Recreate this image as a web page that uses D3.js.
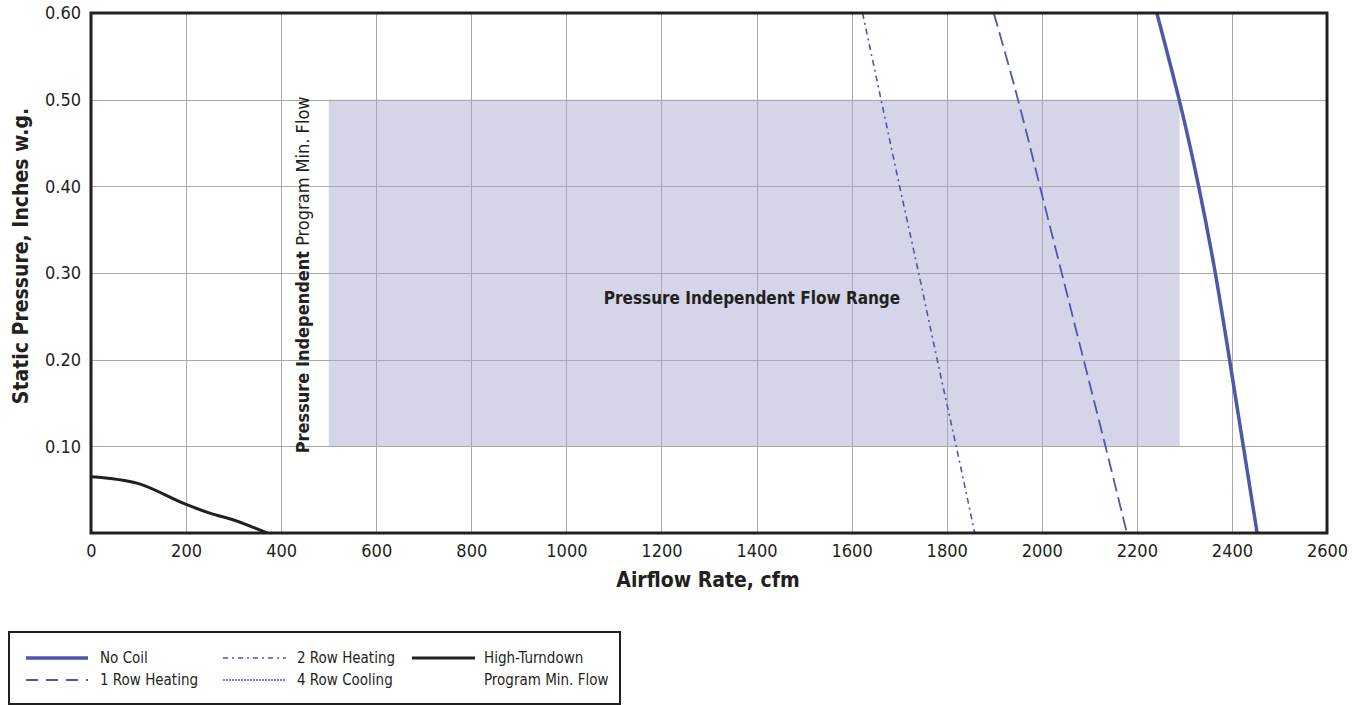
<!DOCTYPE html>
<html><head><meta charset="utf-8">
<script src="https://cdn.jsdelivr.net/npm/d3@7"></script>
<style>
body{margin:0;background:#fff;}
svg text{font-family:"Liberation Sans Narrow","DejaVu Sans Condensed","Arial Narrow",sans-serif;fill:#231f20;}
</style></head><body>
<svg id="chart" width="1365" height="705"></svg>
<script>
const xTicks = [0,200,400,600,800,1000,1200,1400,1600,1800,2000,2200,2400,2600];
const yTicks = [0.10,0.20,0.30,0.40,0.50,0.60];
const yTickLabels = ["0.10","0.20","0.30","0.40","0.50","0.60"];
const flowRange = {x0:500, x1:2290, y0:0.10, y1:0.50};

const noCoilP = [0.60,0.50,0.40,0.30,0.20,0.10,0.00];
const noCoilQ = [2242,2289,2330,2365,2395,2424,2453];
const row1P = [0.60,0.50,0.40,0.30,0.20,0.10,0.00];
const row1Q = [1899,1950,1996,2042,2088,2134,2179];
const row2P = [0.60,0.50,0.40,0.30,0.20,0.10,0.00];
const row2Q = [1623,1662,1701,1741,1780,1820,1859];
const htQ = [0,100,200,250,300,370];
const htP = [0.065,0.057,0.033,0.023,0.015,0.0];

const legendLabels = [["No Coil"],["1 Row Heating"],["2 Row Heating"],["4 Row Cooling"],["High-Turndown","Program Min. Flow"]];

const blue = "#4e58a8";
const svg = d3.select("#chart");
const m = {l:91, r:1327, t:13, b:533};
const x = d3.scaleLinear().domain([0,2600]).range([m.l,m.r]);
const y = d3.scaleLinear().domain([0,0.6]).range([m.b,m.t]);

// shaded range
svg.append("rect").attr("x",x(flowRange.x0)).attr("y",y(flowRange.y1))
  .attr("width",x(flowRange.x1)-x(flowRange.x0)).attr("height",y(flowRange.y0)-y(flowRange.y1))
  .attr("fill","#d4d5e8");

// grid
svg.append("g").selectAll("line").data(xTicks.slice(1,-1)).join("line")
  .attr("x1",d=>Math.round(x(d))+0.5).attr("x2",d=>Math.round(x(d))+0.5).attr("y1",m.t).attr("y2",m.b)
  .attr("stroke","#a9a9ad").attr("stroke-width",1);
svg.append("g").selectAll("line").data(yTicks.slice(0,-1)).join("line")
  .attr("y1",d=>Math.round(y(d))+0.5).attr("y2",d=>Math.round(y(d))+0.5).attr("x1",m.l).attr("x2",m.r)
  .attr("stroke","#a9a9ad").attr("stroke-width",1);

// axes (labels)
const xAxis = d3.axisBottom(x).tickValues(xTicks).tickSize(0).tickPadding(11).tickFormat(d3.format("d"));
const gx = svg.append("g").attr("transform",`translate(0,${m.b})`).call(xAxis);
gx.select(".domain").remove();
gx.selectAll("text").attr("font-size",18).attr("fill","#231f20").style("font-family",null);
const yAxis = d3.axisLeft(y).tickValues(yTicks).tickSize(0).tickPadding(10).tickFormat((d,i)=>yTickLabels[i]);
const gy = svg.append("g").attr("transform",`translate(${m.l},0)`).call(yAxis);
gy.select(".domain").remove();
gy.selectAll("text").attr("font-size",18).attr("fill","#231f20").style("font-family",null);

// text labels
svg.append("text").attr("x",752).attr("y",304).attr("text-anchor","middle")
  .attr("font-size",17).attr("font-weight","bold").text("Pressure Independent Flow Range");
const vt = svg.append("text").attr("transform",`translate(309,${y(0.10)+7}) rotate(-90)`)
  .attr("font-size",18);
vt.append("tspan").attr("font-weight","bold").text("Pressure Independent");
vt.append("tspan").text(" Program Min. Flow");

svg.append("text").attr("x",708).attr("y",587).attr("text-anchor","middle")
  .attr("font-size",21).attr("font-weight","bold").text("Airflow Rate, cfm");
svg.append("text").attr("transform",`translate(28,256) rotate(-90)`).attr("text-anchor","middle")
  .attr("font-size",21).attr("font-weight","bold").text("Static Pressure, Inches w.g.");

// curves
svg.append("clipPath").attr("id","clip").append("rect")
  .attr("x",m.l).attr("y",m.t).attr("width",m.r-m.l).attr("height",m.b-m.t);
const line = d3.line().x(d=>x(d[0])).y(d=>y(d[1])).curve(d3.curveNatural);
const lineX = d3.line().x(d=>x(d[0])).y(d=>y(d[1])).curve(d3.curveMonotoneX);
const g = svg.append("g").attr("clip-path","url(#clip)");
g.append("path").attr("d",line(d3.zip(row2Q,row2P))).attr("fill","none").attr("stroke",blue)
  .attr("stroke-width",1.6).attr("stroke-dasharray","6,4,2,4");
g.append("path").attr("d",line(d3.zip(row1Q,row1P))).attr("fill","none").attr("stroke",blue)
  .attr("stroke-width",1.8).attr("stroke-dasharray","14,6");
g.append("path").attr("d",line(d3.zip(noCoilQ,noCoilP))).attr("fill","none").attr("stroke",blue)
  .attr("stroke-width",3.5);
g.append("path").attr("d",lineX(d3.zip(htQ,htP))).attr("fill","none").attr("stroke","#231f20")
  .attr("stroke-width",3);

// frame
svg.append("rect").attr("x",m.l).attr("y",m.t).attr("width",m.r-m.l).attr("height",m.b-m.t)
  .attr("fill","none").attr("stroke","#231f20").attr("stroke-width",3);

// legend
const legendStyle = [
  {col:0,row:0, color:blue, w:3.5, dash:null},
  {col:0,row:1, color:blue, w:1.8, dash:"12,8"},
  {col:1,row:0, color:blue, w:1.6, dash:"5,4,2,4"},
  {col:1,row:1, color:blue, w:1.4, dash:"2,1"},
  {col:2,row:0, color:"#231f20", w:3, dash:null}
];
const lg = svg.append("g");
lg.append("rect").attr("x",9).attr("y",632).attr("width",611).attr("height",72)
  .attr("fill","none").attr("stroke","#231f20").attr("stroke-width",2);
const lineX0 = [26,223,412], lineX1 = [88,286,475], textX = [100,297,484];
const rowY = [658,680];
legendStyle.forEach((it,k)=>{
  const yy = rowY[it.row];
  const ln = lg.append("line").attr("x1",lineX0[it.col]).attr("x2",lineX1[it.col]).attr("y1",yy).attr("y2",yy)
    .attr("stroke",it.color).attr("stroke-width",it.w);
  if(it.dash) ln.attr("stroke-dasharray",it.dash);
  legendLabels[k].forEach((t,i)=>{
    lg.append("text").attr("x",textX[it.col]).attr("y",rowY[it.row+i]+5)
      .attr("font-size",15).text(t);
  });
});
</script></body></html>
